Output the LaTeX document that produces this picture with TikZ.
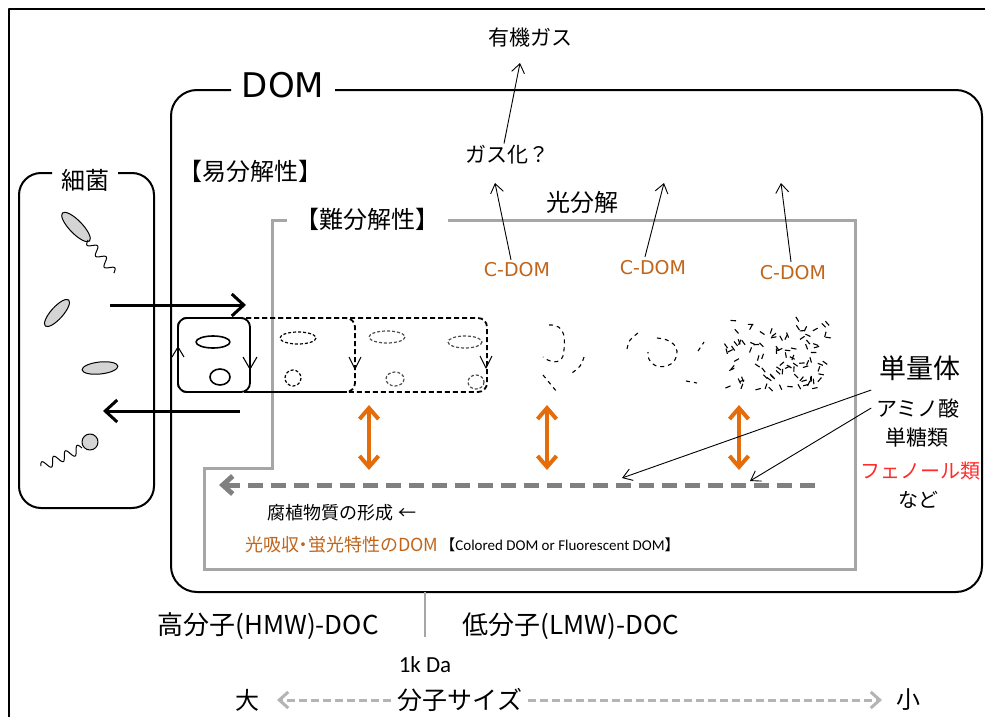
\documentclass[tikz,border=0pt]{standalone}
\usepackage{fontspec}
\setmainfont{Noto Sans CJK JP}
\newfontfamily\latinsans{DejaVu Sans}
\newfontfamily\calib{Carlito}
\usetikzlibrary{arrows.meta,calc}

\definecolor{boxgray}{HTML}{A6A6A6}
\definecolor{dashgray}{HTML}{808080}
\definecolor{axisgray}{HTML}{B4B4B4}
\definecolor{orng}{HTML}{E46C0A}
\definecolor{cdomc}{HTML}{C0651C}
\definecolor{phenred}{HTML}{FF2A2A}
\definecolor{cellfill}{HTML}{D4D4D4}

\newcommand\fsz[1]{\fontsize{#1pt}{#1pt}\selectfont}

\begin{document}
\begin{tikzpicture}[x=1pt,y=-1pt,line join=round,
  lbl/.style={inner sep=0pt,outer sep=0pt},
  frame/.style={line width=2},
  thinarrow/.style={line width=0.9,-{Straight Barb[length=9pt,width=13pt]}},
  thickarrow/.style={line width=3,-{Straight Barb[length=12pt,width=22pt]}},
  orangearrow/.style={orng,line width=4,
    {Straight Barb[length=11pt,width=19pt]}-{Straight Barb[length=11pt,width=19pt]}},
  cell/.style={draw,line width=1,fill=cellfill},
  flagellum/.style={line width=1},
  molbox/.style={line width=1.8,rounded corners=9},
  moldash/.style={molbox,dash pattern=on 5pt off 3pt},
  ring/.style={line width=1.2,dash pattern=on 3pt off 2pt},
  frag/.style={line width=1.1,dash pattern=on 4pt off 4pt},
  tick/.style={line width=1.1},
  axisarrow/.style={axisgray,line width=3,dash pattern=on 8pt off 4pt,
    -{Straight Barb[length=9pt,width=16pt]}}
]
\useasboundingbox (0,0) rectangle (985,717);

% outer frame (left and top edges)
\draw[line width=2.2] (9,717) -- (9,9) -- (985,9);

% ---------------- DOM box ----------------
\draw[frame,rounded corners=26] (335,90) -- (982,90) -- (982,592)
  -- (171,592) -- (171,90) -- (231,90);
\node[lbl,font=\latinsans\fsz{34}] (dom) at (283,85) {DOM};

% ---------------- bacteria box ----------------
\draw[frame,rounded corners=22] (118,173) -- (154,173) -- (154,508)
  -- (19,508) -- (19,173) -- (52,173);
\node[lbl,font=\fsz{24}] (kin) at (85,180) {細菌};

% bacteria
\draw[cell,rotate around={-46:(76,227)}] (76,227) ellipse [x radius=19.5,y radius=6.5];
\draw[flagellum,shift={(88,240)},rotate=-52]
  plot[domain=0:42,samples=60,smooth] (\x,{4*sin(\x*360/14)});
\draw[cell,rotate around={48:(57,313)}] (57,313) ellipse [x radius=17.5,y radius=6];
\draw[cell,rotate around={6:(100,368)}] (100,368) ellipse [x radius=18,y radius=6];
\draw[cell] (90,442) circle [radius=8];
\draw[flagellum,shift={(82,448)},rotate=205]
  plot[domain=0:45,samples=60,smooth] (\x,{4.5*sin(\x*360/13)});

% exchange arrows between bacteria and DOM
\coordinate (outS) at (110,305);
\coordinate (outE) at (246,305);
\coordinate (inS) at (240,411);
\coordinate (inE) at (103,411);
\draw[thickarrow] (outS) -- (outE);
\draw[thickarrow] (inS) -- (inE);

% ---------------- labile / refractory ----------------
\node[lbl,font=\fsz{24}] (easy) at (250,171) {【易分解性】};
\draw[boxgray,line width=3,line join=miter] (287,220) -- (272,220) -- (272,468)
  -- (204,468) -- (204,569) -- (855,569) -- (855,220) -- (448,220);
\node[lbl,font=\fsz{24}] (hard) at (367,219) {【難分解性】};

% ---------------- molecules (large to small) ----------------
\draw[moldash] (178,318) rectangle (487,392);
\draw[moldash] (178,318) rectangle (355,392);
\draw[line width=1.8] (244,392) -- (347,392);
\draw[molbox,fill=white] (178,318) rectangle (250,392);
\draw[line width=1.6] (213,342) ellipse [x radius=17,y radius=6];
\draw[line width=1.6] (220,377) ellipse [x radius=10,y radius=8];
\draw[ring] (298,338) ellipse [x radius=18,y radius=6];
\draw[ring] (293,378) circle [radius=8];
\draw[ring,black!70] (387,337) ellipse [x radius=18,y radius=6];
\draw[ring,black!70] (395,379) ellipse [x radius=9,y radius=7];
\draw[ring,black!70] (465,342) ellipse [x radius=17,y radius=6];
\draw[ring,black!70] (476,382) ellipse [x radius=8,y radius=7];
% circulation marks on the box edges
\draw[tick] (172,357) -- (178,347) -- (184,357);
\draw[tick] (243,357) -- (250,369) -- (257,357);
\draw[tick] (349,357) -- (355,369) -- (361,357);
\draw[tick] (480,356) -- (486,368) -- (492,356);

% fragments
\draw[frag] (549,325) .. controls (566,324) and (566,340) .. (563,356)
  .. controls (560,365) and (549,362) .. (543,357);
\draw[frag] (584,357) .. controls (581,366) .. (572,373);
\draw[frag] (543,375) -- (557,392);
\draw[frag] (627,349) .. controls (629,340) .. (638,333);
\draw[frag] (657,338) .. controls (684,340) and (680,362) .. (667,366)
  .. controls (655,369) and (647,362) .. (648,352);
\draw[frag] (698,351) -- (704,342);
\draw[frag] (686,381) -- (697,383);
\pgfmathsetseed{11}
\foreach \i in {1,...,95}{
  \pgfmathsetmacro\fx{777+50*rand}
  \pgfmathsetmacro\fy{356+36*rand}
  \pgfmathsetmacro\fa{180*rand}
  \draw[line width=1.1] (\fx,\fy) -- ++(\fa:5.5);
}

% ---------------- photodegradation ----------------
\node[lbl,font=\fsz{21}] (yuki) at (530,38) {有機ガス};
\node[lbl,font=\fsz{21}] (gas) at (507,155) {ガス化？};
\node[lbl,font=\fsz{24}] (photo) at (582,202) {光分解};
\node[lbl,font=\latinsans\fsz{19},text=cdomc] (cdom1) at (517,270) {C-DOM};
\node[lbl,font=\latinsans\fsz{19},text=cdomc] (cdom2) at (653,268) {C-DOM};
\node[lbl,font=\latinsans\fsz{19},text=cdomc] (cdom3) at (793,273) {C-DOM};
\coordinate (g0) at (520,63);
\coordinate (g1) at (495,183);
\coordinate (g2) at (664,183);
\coordinate (g3) at (781,183);
\draw[thinarrow] ($(gas.north)+(-3,-2)$) -- (g0);
\draw[thinarrow] ($(cdom1.north)+(-6,-3)$) -- (g1);
\draw[thinarrow] ($(cdom2.north)+(-8,-4)$) -- (g2);
\draw[thinarrow] ($(cdom3.north)+(-2,-4)$) -- (g3);

% ---------------- humic formation ----------------
\draw[orangearrow] (369,405) -- (369,470);
\draw[orangearrow] (547,405) -- (547,470);
\draw[orangearrow] (739,405) -- (739,470);
\coordinate (humR) at (815,485);
\coordinate (humL) at (219,485);
\draw[dashgray,line width=5,dash pattern=on 15pt off 8pt,
  -{Straight Barb[length=10pt,width=18pt]}] (humR) -- (humL);

\node[lbl,font=\fsz{27}] (mono) at (920,368) {単量体};
\node[lbl,font=\fsz{21}] (amino) at (918,408) {アミノ酸};
\node[lbl,font=\fsz{21}] (sugar) at (917,438) {単糖類};
\node[lbl,font=\fsz{20},text=phenred] (phenol) at (920,471) {フェノール類};
\node[lbl,font=\fsz{20}] (etc) at (918,500) {など};
\coordinate (hit1) at (622,478);
\coordinate (hit2) at (750,481);
\draw[line width=0.9,-{Straight Barb[length=9pt,width=12pt]}]
  ($(amino.west)+(-5,-18)$) -- (hit1);
\draw[line width=0.9,-{Straight Barb[length=9pt,width=12pt]}]
  ($(amino.west)+(-5,0)$) -- (hit2);

\node[lbl,font=\fsz{18}] (humic) at (342,513) {腐植物質の形成 ←};
\node[lbl,font=\fsz{18},text=cdomc,anchor=west] (fdom) at (245,545)
  {光吸収\kern-4.5pt・\kern-4.5pt蛍光特性のDOM};
\node[lbl,font=\fsz{15},anchor=west] (fdomen) at ($(fdom.east)+(2,0)$)
  {【{\calib Colored DOM or Fluorescent DOM}】};

% ---------------- molecular size axis ----------------
\draw[boxgray,line width=2.5] (425,592) -- (425,637);
\node[lbl,font=\fsz{26}] (hmw) at (268,626) {高分子(HMW)-DOC};
\node[lbl,font=\fsz{26}] (lmw) at (571,626) {低分子(LMW)-DOC};
\node[lbl,font=\calib\fsz{23}] (kda) at (425,665) {1k Da};
\node[lbl,font=\fsz{24}] (big) at (247,700) {大};
\node[lbl,font=\fsz{25}] (size) at (460,700) {分子サイズ};
\node[lbl,font=\fsz{24}] (small) at (908,700) {小};
\coordinate (axL) at (277,700);
\coordinate (axR) at (882,700);
\draw[axisarrow] ($(size.west)+(-7,0)$) -- (axL);
\draw[axisarrow] ($(size.east)+(6,0)$) -- (axR);
\end{tikzpicture}
\end{document}
